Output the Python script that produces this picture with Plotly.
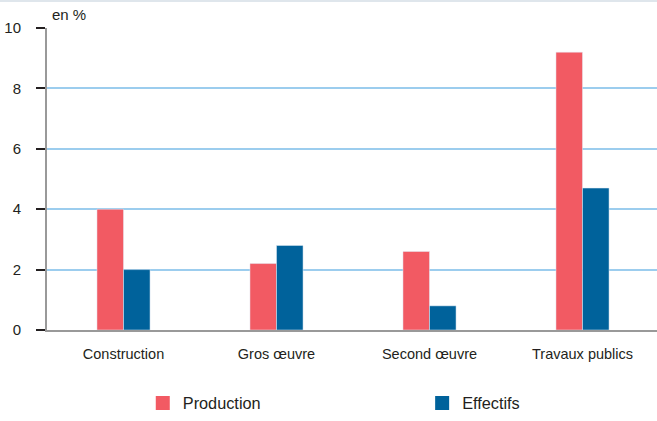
import plotly.graph_objects as go

categories = ["Construction", "Gros œuvre", "Second œuvre", "Travaux publics"]
production = [4.0, 2.2, 2.6, 9.2]
effectifs = [2.0, 2.8, 0.8, 4.7]
y_ticks = [0, 2, 4, 6, 8, 10]

RED = "#f25a63"
BLUE = "#00629b"
FONT = "Liberation Sans, Arial, sans-serif"
TXT = "#231f20"

fig = go.Figure()
fig.add_trace(go.Bar(x=categories, y=production, marker_color=RED, name="Production", showlegend=False))
fig.add_trace(go.Bar(x=categories, y=effectifs, marker_color=BLUE, name="Effectifs", showlegend=False))
# legend proxies
fig.add_trace(go.Scatter(x=[None], y=[None], mode="markers", name="Production", legend="legend",
                         marker=dict(symbol="square", size=14, color=RED)))
fig.add_trace(go.Scatter(x=[None], y=[None], mode="markers", name="Effectifs", legend="legend2",
                         marker=dict(symbol="square", size=14, color=BLUE)))

leg_common = dict(orientation="h", xanchor="left", y=-0.244, yanchor="middle",
                  font=dict(size=16.3, family=FONT, color=TXT), itemsizing="trace",
                  bgcolor="rgba(0,0,0,0)")

fig.update_layout(
    width=657, height=421,
    margin=dict(l=47, r=0, t=28, b=90),
    paper_bgcolor="white", plot_bgcolor="white",
    font=dict(family=FONT, color=TXT, size=15),
    barmode="group", bargap=0.653, bargroupgap=0,
    showlegend=True,
    legend=dict(x=0.157, **leg_common),
    legend2=dict(x=0.615, **leg_common),
    xaxis=dict(range=[-0.5, 3.5 - 2 / 152.5], showgrid=False, showline=True,
               linecolor="#999999", linewidth=2, ticks="", ticklabelstandoff=10,
               tickfont=dict(size=14.5), fixedrange=True),
    yaxis=dict(range=[0, 10], tickvals=y_ticks, showgrid=True, gridcolor="#9ccdee",
               gridwidth=2, zeroline=False, showline=True, linecolor="#999999", linewidth=2,
               ticks="outside", ticklen=9, tickwidth=2, tickcolor="#231f20",
               ticklabelstandoff=12, tickfont=dict(size=15)),
    annotations=[dict(text="en %", xref="paper", yref="paper", x=0.005, y=1.045,
                      xanchor="left", yanchor="middle", showarrow=False,
                      font=dict(size=15, family=FONT, color=TXT))],
    shapes=[dict(type="line", xref="paper", yref="paper", x0=-47 / 610, x1=1,
                 y0=1 + 27 / 303, y1=1 + 27 / 303, line=dict(color="#dfe6ec", width=2))],
)

fig.write_html("out.html")
